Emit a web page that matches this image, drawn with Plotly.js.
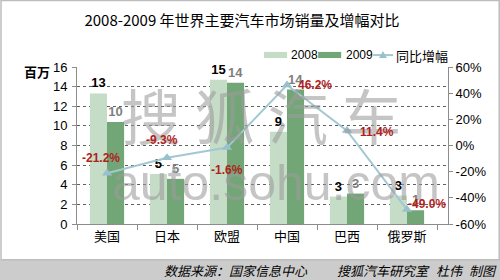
<!DOCTYPE html>
<html>
<head>
<meta charset="utf-8">
<script src="https://cdn.plot.ly/plotly-3.0.1.min.js"></script>
<style>html,body{margin:0;padding:0;background:#fff;}#chart{width:500px;height:280px;}</style>
</head>
<body>
<div id="chart"></div>
<script>
var categories = ['美国', '日本', '欧盟', '中国', '巴西', '俄罗斯'];
var sales2008 = [13.3, 5.1, 14.7, 9.4, 2.8, 2.9];
var sales2009 = [10.4, 4.6, 14.4, 13.7, 3.1, 1.4];
var growth = [-21.2, -9.3, -1.6, 46.2, 11.4, -49.0];
var leftTicks = [0, 2, 4, 6, 8, 10, 12, 14, 16];
var rightTicks = [-60, -40, -20, 0, 20, 40, 60];
var seriesNames = ['2008', '2009', '同比增幅'];

// label offsets (style only, in pixels)
var growthShiftX = [-6, -5, 0, 28, 30, 20];
var growthShiftY = [15, 18, -22, 0, -1, 6];

var FONT = 'Liberation Sans, Arial, Noto Sans CJK SC, sans-serif';
var CJK = 'Noto Sans CJK SC, Liberation Sans, sans-serif';
var C2008 = '#C5DCC6', C2009 = '#72A676', CLINE = '#A3C8D3', CMARK = '#98C0CD';

var traces = [
  {
    type: 'bar', name: seriesNames[0], x: categories, y: sales2008,
    marker: {color: C2008},
    text: sales2008.map(function(v){return String(Math.round(v));}),
    textposition: 'outside', cliponaxis: false,
    textfont: {color: '#000', size: 13, family: FONT, weight: 'bold'}
  },
  {
    type: 'bar', name: seriesNames[1], x: categories, y: sales2009,
    marker: {color: C2009},
    text: sales2009.map(function(v){return String(Math.round(v));}),
    textposition: 'outside', cliponaxis: false,
    textfont: {color: '#7F7F7F', size: 13, family: FONT, weight: 'bold'}
  },
  {
    type: 'scatter', mode: 'lines+markers', name: seriesNames[2],
    x: categories, y: growth, yaxis: 'y2',
    line: {color: CLINE, width: 2},
    marker: {symbol: 'triangle-up', size: 9, color: CMARK},
    cliponaxis: false
  }
];

function foot(t, x, anchor) {
  return {text: '<i>' + t + '</i>', xref: 'paper', yref: 'paper', x: x, y: -0.293, xanchor: anchor, yanchor: 'middle', showarrow: false, font: {family: CJK, size: 13, color: '#000'}};
}

var annotations = [
  {text: '<b>百万</b>', xref: 'paper', yref: 'paper', x: -0.068, y: 0.97, xanchor: 'right', yanchor: 'middle', showarrow: false, font: {family: CJK, size: 13, color: '#000'}},
  {text: '搜 狐 汽 车', xref: 'paper', yref: 'paper', x: 0.496, y: 0.707, xanchor: 'center', yanchor: 'middle', showarrow: false, font: {family: CJK, size: 60, color: 'rgba(155,155,155,0.58)'}},
  {text: 'auto.sohu.com', xref: 'paper', yref: 'paper', x: 0.536, y: 0.26, xanchor: 'center', yanchor: 'middle', showarrow: false, font: {family: FONT, size: 50, color: 'rgba(155,155,155,0.58)'}},
  foot('数据来源：国家信息中心', 0.628, 'right'),
  foot('搜狐汽车研究室', 0.695, 'left'),
  foot('杜伟', 0.962, 'left'),
  foot('制图', 1.051, 'left'),
  // custom legend texts
  {text: seriesNames[0], xref: 'paper', yref: 'paper', x: 0.571, y: 1.076, xanchor: 'left', yanchor: 'middle', showarrow: false, font: {family: FONT, size: 12, color: '#000'}},
  {text: seriesNames[1], xref: 'paper', yref: 'paper', x: 0.720, y: 1.076, xanchor: 'left', yanchor: 'middle', showarrow: false, font: {family: FONT, size: 12, color: '#000'}},
  {text: seriesNames[2], xref: 'paper', yref: 'paper', x: 0.855, y: 1.076, xanchor: 'left', yanchor: 'middle', showarrow: false, font: {family: CJK, size: 13, color: '#000'}}
];

growth.forEach(function(v, i){
  annotations.push({
    text: '<b>' + v.toFixed(1) + '%</b>', x: categories[i], y: v, xref: 'x', yref: 'y2',
    xanchor: 'center', yanchor: 'middle', showarrow: false,
    xshift: growthShiftX[i], yshift: growthShiftY[i],
    font: {family: FONT, size: 12, color: '#B01E1E'}
  });
});

var layout = {
  width: 500, height: 280,
  margin: {l: 77, r: 52, t: 67, b: 56, pad: 0},
  paper_bgcolor: '#fff', plot_bgcolor: '#fff',
  font: {family: FONT, size: 13, color: '#000'},
  title: {text: '2008-2009 年世界主要汽车市场销量及增幅对比', font: {family: CJK, size: 15, color: '#000'}, x: 0.484, xanchor: 'center', y: 0.925, yanchor: 'middle'},
  barmode: 'group', bargap: 0.43, bargroupgap: 0,
  showlegend: false,
  xaxis: {
    type: 'category', showline: true, linecolor: '#8C8C8C', linewidth: 1,
    ticks: 'outside', tickson: 'boundaries', ticklen: 5, tickcolor: '#8C8C8C',
    showgrid: false, tickfont: {family: CJK, size: 13, color: '#000'}, fixedrange: true
  },
  yaxis: {
    range: [0, 16], tickvals: leftTicks, showline: true, linecolor: '#8C8C8C', linewidth: 1,
    ticks: 'outside', ticklen: 4, tickcolor: '#8C8C8C',
    showgrid: true, gridcolor: '#606060', griddash: 'dot', gridwidth: 1, zeroline: false,
    tickfont: {family: FONT, size: 13, color: '#000'}, ticklabelstandoff: 2
  },
  yaxis2: {
    overlaying: 'y', side: 'right', range: [-60, 60], tickvals: rightTicks,
    ticktext: rightTicks.map(function(v){return v + '%';}),
    showline: true, linecolor: '#8C8C8C', linewidth: 1,
    ticks: 'outside', ticklen: 4, tickcolor: '#8C8C8C',
    showgrid: false, zeroline: false,
    tickfont: {family: FONT, size: 13, color: '#000'}
  },
  shapes: [
    {type: 'rect', xref: 'paper', yref: 'paper', x0: -0.2075, x1: 1.141, y0: -0.357, y1: -0.229,
     fillcolor: '#CCCCCC', line: {width: 0}, layer: 'below'},
    {type: 'rect', xref: 'paper', yref: 'paper', x0: -0.2048, x1: 1.138, y0: -0.228, y1: 1.423,
     fillcolor: 'rgba(0,0,0,0)', line: {width: 1.5, color: '#BDBDBD'}, layer: 'below'},
    // custom legend symbols
    {type: 'rect', xref: 'paper', yref: 'paper', x0: 0.504, x1: 0.566, y0: 1.057, y1: 1.096, fillcolor: C2008, line: {width: 0}},
    {type: 'rect', xref: 'paper', yref: 'paper', x0: 0.650, x1: 0.712, y0: 1.057, y1: 1.096, fillcolor: C2009, line: {width: 0}},
    {type: 'line', xref: 'paper', yref: 'paper', x0: 0.798, x1: 0.852, y0: 1.076, y1: 1.076, line: {width: 2, color: CLINE}},
    {type: 'path', xref: 'paper', yref: 'paper', path: 'M 0.8248 1.1019 L 0.8140 1.0573 L 0.8356 1.0573 Z', fillcolor: CMARK, line: {width: 0}}
  ],
  annotations: annotations
};

Plotly.newPlot('chart', traces, layout, {displayModeBar: false, staticPlot: true});
</script>
</body>
</html>
